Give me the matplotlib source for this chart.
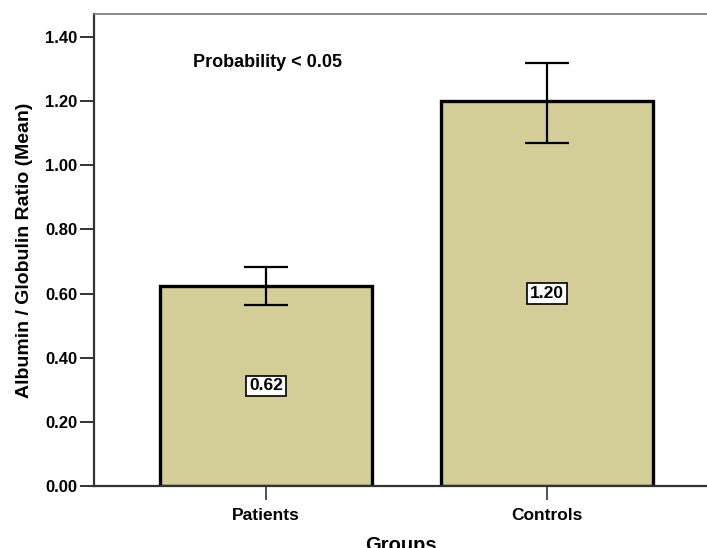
import matplotlib.pyplot as plt

groups = ['Patients', 'Controls']
means = [0.625, 1.20]
err_low = [0.563, 1.070]
err_high = [0.684, 1.320]
bar_labels = ['0.62', '1.20']
yticks = [0.0, 0.2, 0.4, 0.6, 0.8, 1.0, 1.2, 1.4]

plt.rcParams['font.family'] = 'Liberation Sans'
plt.rcParams['font.weight'] = 'bold'

fig = plt.figure(figsize=(7.07, 5.48), dpi=100)
ax = fig.add_axes([94 / 707, 62 / 548, 1 - 94 / 707, 472 / 548])

x = list(range(len(groups)))
yerr = [[m - lo for m, lo in zip(means, err_low)],
        [hi - m for m, hi in zip(means, err_high)]]

ax.bar(x, means, width=0.754, color='#D3CE97', edgecolor='black', linewidth=2.4, zorder=2)
ax.errorbar(x, means, yerr=yerr, fmt='none', ecolor='black', elinewidth=1.6,
            capsize=16, capthick=1.6, zorder=3)

# value boxes in the middle of each bar
for xi, m, lab in zip(x, means, bar_labels):
    ax.text(xi, m / 2, lab, ha='center', va='center', fontsize=12.5, fontweight='bold',
            bbox=dict(boxstyle='square,pad=0.16', facecolor='white', edgecolor='black', linewidth=1.2),
            zorder=4)

ax.text(0.005, 1.322, 'Probability < 0.05', ha='center', va='center', fontsize=13, fontweight='bold')

ax.set_xlim(-0.612, 1.569)
ax.set_ylim(0, 1.472)
ax.set_xticks(x)
ax.set_xticklabels(groups)
ax.set_yticks(yticks)
ax.set_yticklabels(['%.2f' % t for t in yticks])

ax.tick_params(axis='y', direction='out', length=10, width=1.4, color='#333333', pad=2, labelsize=12)
ax.tick_params(axis='x', direction='out', length=10, width=1.2, color='#333333', pad=6, labelsize=12.5)

ax.spines['left'].set_color('#333333')
ax.spines['left'].set_linewidth(1.6)
ax.spines['bottom'].set_color('#333333')
ax.spines['bottom'].set_linewidth(1.6)
ax.spines['top'].set_color('#777777')
ax.spines['top'].set_linewidth(1.2)
ax.spines['right'].set_visible(False)

ax.set_ylabel('Albumin / Globulin Ratio (Mean)', fontsize=14, fontweight='bold', labelpad=9)
ax.set_xlabel('Groups', fontsize=14.5, fontweight='bold', labelpad=9)

fig.savefig('out.png', dpi=100)
